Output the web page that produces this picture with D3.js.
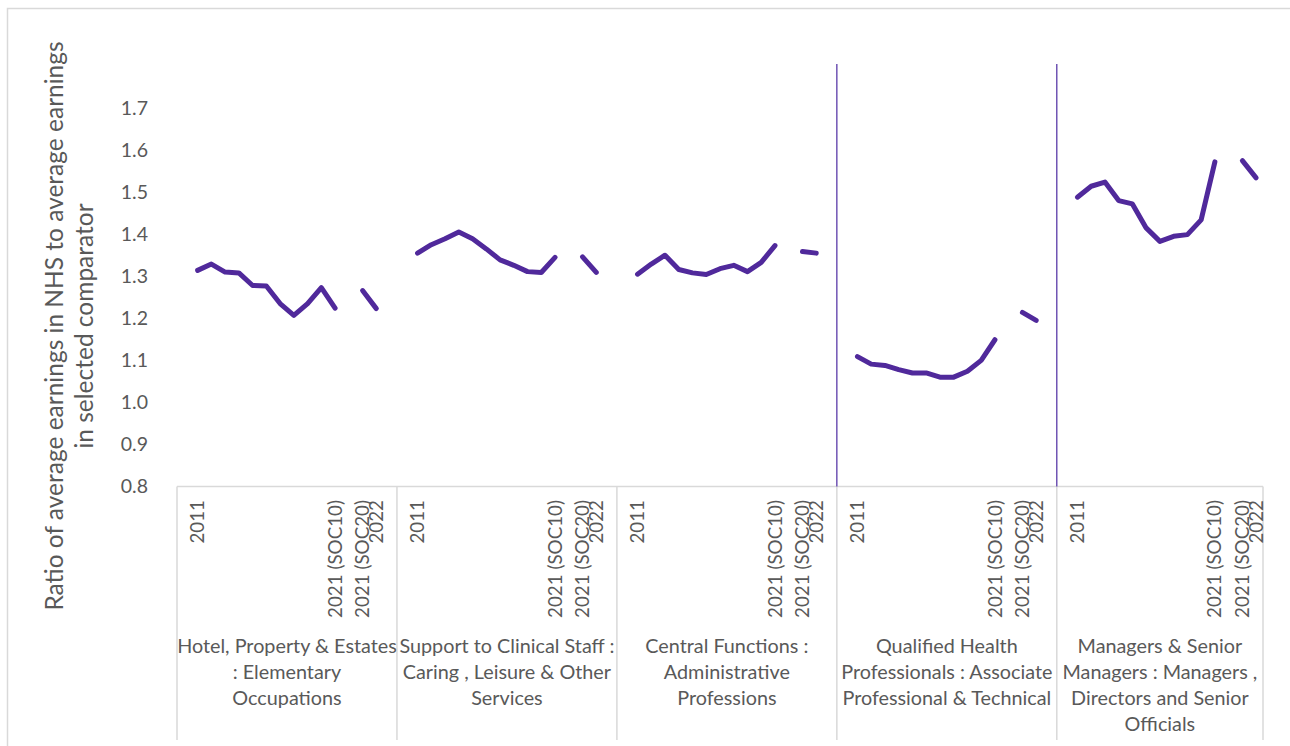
<!DOCTYPE html>
<html><head><meta charset="utf-8">
<script src="https://cdn.jsdelivr.net/npm/d3@7"></script>
<style>
html,body{margin:0;padding:0;background:#fff;overflow:hidden}
text{font-family:Lato,"Open Sans",sans-serif;fill:#595959}
</style></head>
<body><svg id="c" width="1290" height="746"></svg>
<script>
// ---- data ----
const years = ["2011","2012","2013","2014","2015","2016","2017","2018","2019","2020","2021 (SOC10)","2021 (SOC20)","2022"];
const yearLabels = ["2011","","","","","","","","","","2021 (SOC10)","2021 (SOC20)","2022"];
const groups = [
  ["Hotel, Property & Estates", ": Elementary", "Occupations"],
  ["Support to Clinical Staff :", "Caring , Leisure & Other", "Services"],
  ["Central Functions :", "Administrative", "Professions"],
  ["Qualified Health", "Professionals : Associate", "Professional & Technical"],
  ["Managers & Senior", "Managers : Managers ,", "Directors and Senior", "Officials"]
];
const hotel    = [1.314,1.329,1.310,1.308,1.278,1.277,1.235,1.207,1.235,1.273,1.224,1.266,1.223];
const support  = [1.355,1.375,1.389,1.405,1.389,1.365,1.339,1.326,1.311,1.309,1.345,1.346,1.309];
const central  = [1.305,1.329,1.350,1.316,1.308,1.304,1.318,1.326,1.311,1.333,1.373,1.359,1.355];
const qualified= [1.109,1.091,1.088,1.078,1.070,1.070,1.060,1.060,1.074,1.100,1.149,1.214,1.195];
const managers = [1.488,1.514,1.524,1.480,1.472,1.415,1.383,1.395,1.399,1.434,1.572,1.575,1.534];
const seriesValues = [hotel, support, central, qualified, managers];
const yTicks = [0.8,0.9,1.0,1.1,1.2,1.3,1.4,1.5,1.6,1.7];
const yTitle = ["Ratio of average earnings in NHS to average earnings", "in selected comparator"];

(function(){
// slot layout per group: blank, 2011..2021(SOC10), blank, 2021(SOC20), 2022, blank
const slotsPerGroup = 16;
const slotOf = i => (i <= 10 ? i + 1 : i + 2);
const totalSlots = groups.length * slotsPerGroup - 1;

const svg = d3.select("#c");
const pLeft = 177, pRight = 1263, pTop = 66, pBottom = 486.5;
const x = d3.scaleBand().domain(d3.range(totalSlots)).range([pLeft, pRight]).paddingInner(0).paddingOuter(0);
const y = d3.scaleLinear().domain([0.8, 1.8]).range([pBottom, pTop]);
const cx = (g, i) => x(g * slotsPerGroup + slotOf(i)) + x.bandwidth() / 2;
const gx0 = g => x(g * slotsPerGroup);
const gx1 = g => (g === groups.length - 1 ? pRight : x((g + 1) * slotsPerGroup));

// outer border
svg.append("rect").attr("x", 7.5).attr("y", 8.5).attr("width", 1300).attr("height", 760)
  .attr("fill", "none").attr("stroke", "#d9d9d9").attr("stroke-width", 1.5);

// y axis labels
const yAxis = d3.axisLeft(y).tickValues(yTicks).tickFormat(d3.format(".1f")).tickSize(0).tickPadding(0);
const ya = svg.append("g").attr("transform", `translate(148,0)`).call(yAxis);
ya.select(".domain").remove();
ya.selectAll("text").attr("font-size", 19.5).style("font-family", "Lato,'Open Sans',sans-serif").attr("fill", "#595959");

// y title
const yt = svg.append("text").attr("transform", "translate(0,326) rotate(-90)").attr("text-anchor", "middle").attr("font-size", 24.5);
yt.selectAll("tspan").data(yTitle).join("tspan").attr("x", 0).attr("y", (d, i) => 63 + i * 30).text(d => d);

// category axis line
svg.append("line").attr("x1", pLeft).attr("x2", pRight).attr("y1", pBottom).attr("y2", pBottom)
  .attr("stroke", "#d9d9d9").attr("stroke-width", 1.5);
// group separators
const seps = groups.map((g, i) => gx0(i)).concat([pRight]);
svg.selectAll(".sep").data(seps).join("line").attr("class", "sep")
  .attr("x1", d => d).attr("x2", d => d).attr("y1", pBottom).attr("y2", 740)
  .attr("stroke", "#d9d9d9").attr("stroke-width", 1.5);

// purple vertical dividers
svg.selectAll(".div").data([3, 4]).join("line").attr("class", "div")
  .attr("x1", d => gx0(d)).attr("x2", d => gx0(d)).attr("y1", 64).attr("y2", pBottom)
  .attr("stroke", "#5a3aa8").attr("stroke-width", 1.3);

// year labels + group labels
groups.forEach((g, gi) => {
  svg.append("g").selectAll("text").data(yearLabels).join("text")
    .attr("transform", (d, i) => `translate(${cx(gi, i)},500) rotate(-90)`)
    .attr("text-anchor", "end").attr("dy", "0.35em").attr("font-size", 18.8)
    .text(d => d);
  const t = svg.append("text").attr("text-anchor", "middle").attr("font-size", 19.8);
  t.selectAll("tspan").data(g).join("tspan")
    .attr("x", (gx0(gi) + gx1(gi)) / 2).attr("y", (d, i) => 653 + i * 26).text(d => d);
});

// lines
const line = d3.line().x(d => d.x).y(d => d.y);
seriesValues.forEach((vals, gi) => {
  const pts = vals.map((v, i) => ({ x: cx(gi, i), y: y(v) }));
  [pts.slice(0, 11), pts.slice(11)].forEach(seg => {
    svg.append("path").attr("d", line(seg)).attr("fill", "none")
      .attr("stroke", "#50299b").attr("stroke-width", 5)
      .attr("stroke-linecap", "round").attr("stroke-linejoin", "round");
  });
});
})();
</script></body></html>
